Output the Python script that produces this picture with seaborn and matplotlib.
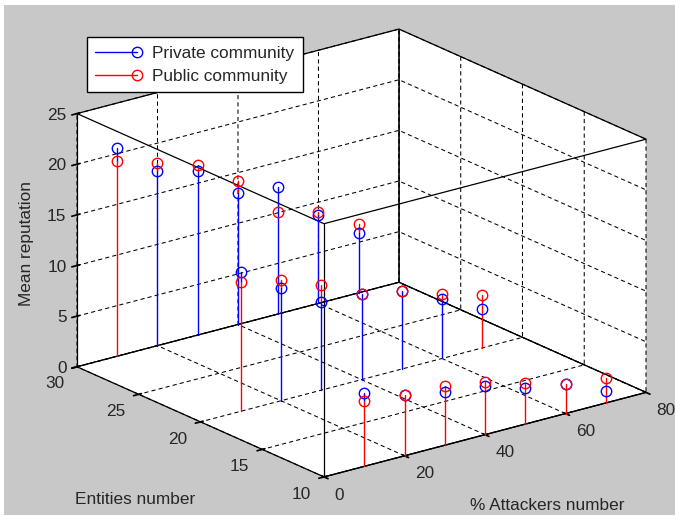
import numpy as np
import pandas as pd
import matplotlib
matplotlib.use("Agg")
import matplotlib.pyplot as plt
import seaborn as sns
from matplotlib.lines import Line2D
from matplotlib.patches import Rectangle

# ---------------- data ----------------
attackers = [10, 20, 30, 40, 50, 60, 70]          # % Attackers number
entities_rows = [30, 20, 10]                       # Entities number
private_30 = [20.6, 17.2, 16.2, 13.0, 12.5, 8.7, 5.9]
public_30 = [19.3, 18.0, 16.8, 14.2, 10.1, 9.0, 6.8]
private_20 = [13.8, 11.1, 8.7, 8.5, 7.7, 5.9, 3.8]
public_20 = [12.8, 11.9, 10.4, 8.5, 7.7, 6.4, 5.2]
private_10 = [7.2, 6.0, 5.3, 4.8, 3.6, 2.9, 1.2]
public_10 = [6.5, 6.0, 5.8, 5.2, 4.1, 2.9, 2.5]

series_names = ["Private community", "Public community"]
x_ticks = [0, 20, 40, 60, 80]
y_ticks = [10, 15, 20, 25, 30]
z_ticks = [0, 5, 10, 15, 20, 25]
x_label = "% Attackers number"
y_label = "Entities number"
z_label = "Mean reputation"

# stems whose red line is drawn over the blue one
red_on_top = {30: [10], 20: [10, 70], 10: [10, 20, 30, 40, 50, 60, 70]}

pairs = []
for ent, priv, pub in [(30, private_30, public_30), (20, private_20, public_20),
                       (10, private_10, public_10)]:
    for a, p, q in zip(attackers, priv, pub):
        pairs.append((a, ent, p, q))
pairs = pd.DataFrame(pairs, columns=["attackers", "entities", "private", "public"])
df = pairs.melt(id_vars=["attackers", "entities"], value_vars=["private", "public"],
                var_name="key", value_name="reputation")
df["community"] = df["key"].map({"private": series_names[0], "public": series_names[1]})

# ---------------- style ----------------
sns.set_theme(style="white")
plt.rcParams['font.family'] = ['Liberation Sans', 'DejaVu Sans']
plt.rcParams.update({
    'grid.color': 'black', 'grid.linestyle': '--', 'grid.linewidth': 0.7,
    'axes3d.grid': True,
})
FS = 12.4
TXT = '#262626'
colors = {series_names[0]: 'blue', series_names[1]: 'red'}

W, H, DPI = 675, 516, 100
fig = plt.figure(figsize=(W / DPI, H / DPI), dpi=DPI, facecolor='white')
fig.add_artist(Rectangle((4 / W, 1 / H), (W - 4) / W, 510 / H, transform=fig.transFigure,
                         facecolor='#c8c8c8', edgecolor='none', zorder=-10))

# target pixel layout of the box (image coords, origin top-left)
T_LEFT, T_RIGHT = 77.0, 646.0
T_TOP, T_BOTTOM = 29.0, 477.0

S = 760.0
cx, cy = (T_LEFT + T_RIGHT) / 2, H - (T_TOP + T_BOTTOM) / 2


def place(cx, cy):
    return [(cx - S / 2) / W, (cy - S / 2) / H, S / W, S / H]


ax = fig.add_axes(place(cx, cy), projection='3d', computed_zorder=False)
ax.set_facecolor((1, 1, 1, 0))
ax.patch.set_alpha(0)
ax.set_proj_type('ortho')
ax.view_init(elev=20, azim=-127.5)
ax.set_xlim(0, 80)
ax.set_ylim(10, 30)
ax.set_zlim(0, 25)
zoom = 1.0
aspect = (1, 1, 0.664)
ax.set_box_aspect(aspect, zoom=zoom)

for axis in (ax.xaxis, ax.yaxis, ax.zaxis):
    axis.set_pane_color((1, 1, 1, 1))
    axis.pane.set_edgecolor('black')
    axis.pane.set_linewidth(0.9)
    axis.line.set_color('black')
    axis.line.set_linewidth(0.9)
    try:
        axis._axinfo['grid'].update(color='black', linewidth=0.75, linestyle=(0, (4, 3)))
    except Exception:
        pass

ax.set_xticks(x_ticks)
ax.set_yticks(y_ticks)
ax.set_zticks(z_ticks)
ax.set_xticklabels([])
ax.set_yticklabels([])
ax.set_zticklabels([])
ax.tick_params(axis='both', colors='black')
ax.set_xlabel('')
ax.set_ylabel('')
ax.set_zlabel('')


def project(x, y, z):
    M = ax.get_proj()
    v = M @ np.array([x, y, z, 1.0])
    xs, ys = v[0] / v[3], v[1] / v[3]
    px, py = ax.transData.transform((xs, ys))
    return px, H - py


def measure():
    fig.canvas.draw()
    l = project(0, 30, 0)
    r = project(80, 10, 0)
    t = project(80, 30, 25)
    b = project(0, 10, 0)
    return l, r, t, b


for _ in range(3):
    l, r, t, b = measure()
    width = r[0] - l[0]
    zoom *= (T_RIGHT - T_LEFT) / width
    ax.set_box_aspect(aspect, zoom=zoom)
    l, r, t, b = measure()
    ccx = (l[0] + r[0]) / 2
    ccy = (t[1] + b[1]) / 2
    cx += (T_LEFT + T_RIGHT) / 2 - ccx
    cy -= (T_TOP + T_BOTTOM) / 2 - ccy
    ax.set_position(place(cx, cy))
fig.canvas.draw()

# ---------------- tick labels (MATLAB-like placement) ----------------
for v in x_ticks:
    px, py = project(v, 10, 0)
    fig.text((px + 10.5) / W, 1 - (py + 22.7) / H, f"{v}", ha='left', va='baseline',
             fontsize=FS, color=TXT)
for v in y_ticks:
    px, py = project(0, v, 0)
    fig.text((px - 13) / W, 1 - (py + 21.7) / H, f"{v}", ha='right', va='baseline',
             fontsize=FS, color=TXT)
for v in z_ticks:
    px, py = project(0, 30, v)
    fig.text((px - 10.5) / W, 1 - (py + 6.2) / H, f"{v}", ha='right', va='baseline',
             fontsize=FS, color=TXT)

# ---------------- box front edges ----------------
ax.plot([0, 0], [10, 10], [0, 25], color='black', lw=0.9, zorder=1)
ax.plot([0, 0], [30, 10], [25, 25], color='black', lw=0.9, zorder=1)
ax.plot([0, 80], [10, 10], [25, 25], color='black', lw=0.9, zorder=1)

# ---------------- stems ----------------
for _, rw in pairs.iterrows():
    red_top = rw["attackers"] in red_on_top[rw["entities"]]
    top_key, under_key = ("public", "private") if red_top else ("private", "public")
    top_name = series_names[1] if red_top else series_names[0]
    under_name = series_names[0] if red_top else series_names[1]
    zt, zu = rw[top_key], rw[under_key]
    a, e = rw["attackers"], rw["entities"]
    if zu > zt:
        ax.plot([a, a], [e, e], [zt, zu], color=colors[under_name], lw=1.0, zorder=2)
    ax.plot([a, a], [e, e], [0, zt], color=colors[top_name], lw=1.0, zorder=3)

for k, name in enumerate(series_names):
    sub = df[df["community"] == name]
    ax.plot(sub["attackers"], sub["entities"], sub["reputation"], linestyle='none',
            marker='o', ms=7.5, mfc='none', mec=colors[name], mew=1.0, zorder=5 + k)

# ---------------- axis labels ----------------
fig.text(27 / W, 1 - 243 / H, z_label, rotation=90, ha='center', va='center',
         fontsize=FS, color=TXT)
fig.text(135.5 / W, 1 - 499 / H, y_label, ha='center', va='center', fontsize=FS, color=TXT)
fig.text(547 / W, 1 - 505 / H, x_label, ha='center', va='center', fontsize=FS, color=TXT)

# ---------------- legend ----------------
handles = [Line2D([], [], color=colors[n], lw=1.0, marker='o', ms=7.5, mfc='none',
                  mec=colors[n], mew=1.0) for n in series_names]
leg = fig.legend(handles, series_names, loc='upper left',
                 bbox_to_anchor=(86.7 / W, 1 - 37.3 / H), bbox_transform=fig.transFigure,
                 frameon=True, fancybox=False, edgecolor='black', facecolor='white',
                 framealpha=1, fontsize=FS, handlelength=2.4, handletextpad=0.9,
                 borderpad=0.5, labelspacing=0.45, borderaxespad=0, numpoints=1)
leg.get_frame().set_linewidth(1.0)
for t_ in leg.get_texts():
    t_.set_color(TXT)
for ln in leg.get_lines():
    ln.set_markevery([2])

fig.savefig('out.png', dpi=DPI, facecolor='white')
